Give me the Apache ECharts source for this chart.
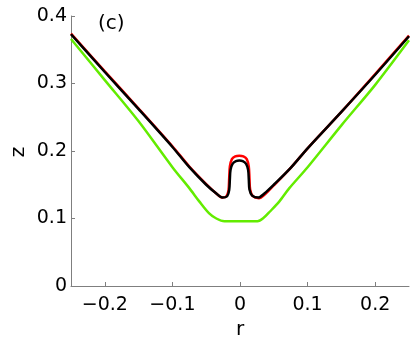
<!DOCTYPE html>
<html>
<head>
<meta charset="utf-8">
<script src="https://cdn.jsdelivr.net/npm/echarts@6/dist/echarts.min.js"></script>
<style>
  html, body { margin: 0; padding: 0; background: #fff; }
  #chart_c { width: 415px; height: 339px; }
</style>
</head>
<body>
<div id="chart_c"></div>
<script>
// tick labels
var xTicks = [-0.2, -0.1, 0, 0.1, 0.2];
var yTicks = [0, 0.1, 0.2, 0.3, 0.4];

// r values / z values of each curve
var blackR = [-0.25, -0.2, -0.15, -0.1, -0.075, -0.05, -0.035, -0.026, -0.019, -0.016, -0.015, -0.014, -0.011, -0.006, -0.001, 0.004, 0.009, 0.012, 0.013, 0.014, 0.018, 0.027, 0.036, 0.05, 0.075, 0.1, 0.15, 0.2, 0.25];
var blackZ = [0.373, 0.317, 0.262, 0.206, 0.176, 0.150, 0.137, 0.131, 0.133, 0.142, 0.158, 0.172, 0.181, 0.185, 0.186, 0.185, 0.181, 0.172, 0.158, 0.143, 0.134, 0.131, 0.137, 0.150, 0.175, 0.204, 0.258, 0.313, 0.370];

var redR = [-0.25, -0.2, -0.15, -0.1, -0.075, -0.05, -0.035, -0.026, -0.020, -0.017, -0.016, -0.015, -0.012, -0.007, -0.001, 0.005, 0.010, 0.013, 0.014, 0.015, 0.019, 0.028, 0.037, 0.05, 0.075, 0.1, 0.15, 0.2, 0.25];
var redZ = [0.374, 0.318, 0.263, 0.207, 0.177, 0.151, 0.137, 0.131, 0.133, 0.142, 0.160, 0.177, 0.188, 0.192, 0.193, 0.192, 0.188, 0.177, 0.160, 0.143, 0.133, 0.130, 0.136, 0.149, 0.175, 0.204, 0.258, 0.314, 0.371];

var greenR = [-0.25, -0.2, -0.15, -0.1, -0.075, -0.06, -0.046, -0.035, -0.023, 0, 0.026, 0.035, 0.044, 0.058, 0.073, 0.1, 0.15, 0.2, 0.25];
var greenZ = [0.366, 0.305, 0.244, 0.176, 0.145, 0.125, 0.108, 0.100, 0.096, 0.096, 0.096, 0.101, 0.110, 0.125, 0.145, 0.176, 0.238, 0.298, 0.364];

function pairs(rs, zs) {
  return rs.map(function (r, i) { return [r, zs[i]]; });
}

var chart_c = echarts.init(document.getElementById("chart_c"));
var fontFam = "DejaVu Sans, sans-serif";
var axisGrey = "#7f7f7f";

var option = {
  animation: false,
  grid: { left: 71, right: 6, top: 16, bottom: 53, containLabel: false, outerBoundsMode: "none" },
  xAxis: {
    type: "value",
    min: -0.25,
    max: 0.25,
    name: "r",
    nameLocation: "middle",
    nameGap: 25,
    nameTextStyle: { color: "#000", fontSize: 20, fontFamily: fontFam, verticalAlign: "top" },
    axisLine: { show: true, onZero: false, lineStyle: { color: axisGrey, width: 1 } },
    axisTick: { show: true, inside: true, length: 4, customValues: xTicks, lineStyle: { color: axisGrey } },
    axisLabel: {
      customValues: xTicks,
      color: "#000",
      fontSize: 19,
      fontFamily: fontFam,
      margin: 10,
      formatter: function (v) { return v === 0 ? "0" : String(v).replace("-", "\u2212"); }
    },
    splitLine: { show: false }
  },
  yAxis: {
    type: "value",
    min: 0,
    max: 0.4,
    interval: 0.1,
    axisLine: { show: true, onZero: false, lineStyle: { color: axisGrey, width: 1 } },
    axisTick: { show: true, inside: true, length: 4, lineStyle: { color: axisGrey } },
    axisLabel: {
      color: "#000",
      fontSize: 19,
      fontFamily: fontFam,
      margin: 4,
      formatter: function (v) { return v === 0 ? "0" : String(v); }
    },
    splitLine: { show: false }
  },
  graphic: [
    {
      type: "text",
      left: 98,
      top: 14,
      style: { text: "(c)", fill: "#000", font: "20px " + fontFam }
    },
    {
      // y-axis title, rotated like the original
      type: "text",
      x: 19,
      y: 152,
      rotation: Math.PI / 2,
      style: {
        text: "z",
        fill: "#000",
        font: "20px " + fontFam,
        align: "center",
        verticalAlign: "middle"
      }
    }
  ],
  series: [
    {
      name: "green",
      type: "line",
      data: pairs(greenR, greenZ),
      showSymbol: false,
      smooth: 0.3,
      lineStyle: { color: "#63ec00", width: 2.5 }
    },
    {
      name: "red",
      type: "line",
      data: pairs(redR, redZ),
      showSymbol: false,
      smooth: 0.3,
      lineStyle: { color: "#ff0000", width: 2.5 }
    },
    {
      name: "black",
      type: "line",
      data: pairs(blackR, blackZ),
      showSymbol: false,
      smooth: 0.3,
      lineStyle: { color: "#000000", width: 2.5 }
    }
  ]
};

chart_c.setOption(option);
</script>
</body>
</html>
